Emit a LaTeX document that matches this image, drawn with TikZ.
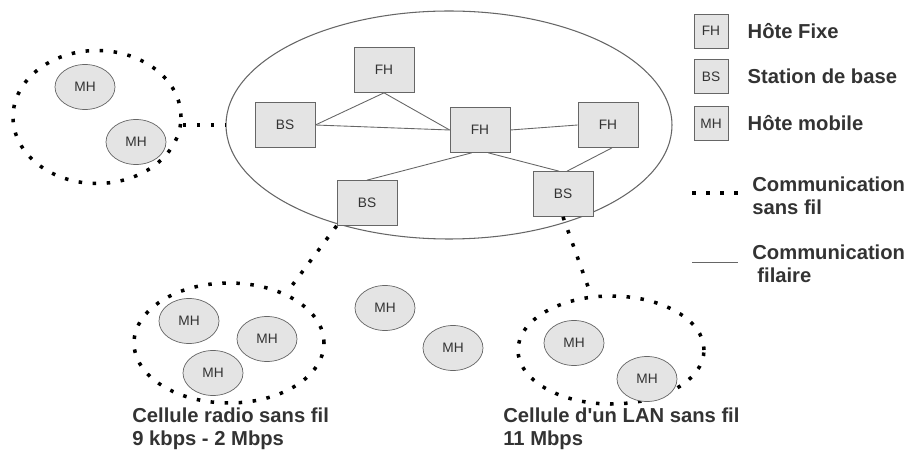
\documentclass[tikz,border=0pt]{standalone}
\usepackage{fontspec}
\setmainfont{Liberation Sans}
\usepackage{xcolor}
\usepackage{tikz}
\usetikzlibrary{shapes.geometric, positioning, calc}
\definecolor{boxgray}{HTML}{E4E4E4}
\definecolor{edgegray}{HTML}{666666}
\definecolor{inkgray}{HTML}{333333}
\tikzstyle{station} = [rectangle, minimum width=1.2cm, minimum height=0.9cm, draw=edgegray, fill=boxgray, text=inkgray, font=\fontsize{7.8}{9}\selectfont, inner sep=0pt]
\tikzstyle{mobile} = [ellipse, minimum width=1.2cm, minimum height=0.9cm, draw=edgegray, fill=boxgray, text=inkgray, font=\fontsize{7.8}{9}\selectfont, inner sep=0pt]
\tikzstyle{legendbox} = [rectangle, minimum width=0.68cm, minimum height=0.68cm, draw=edgegray, fill=boxgray, text=inkgray, font=\fontsize{7.8}{9}\selectfont, inner sep=0pt]
\tikzstyle{cell} = [ellipse, draw=black, line width=2pt, dash pattern=on 2pt off 6pt]
\tikzstyle{wireless} = [draw=black, line width=2pt, dash pattern=on 2pt off 6pt]
\tikzstyle{wired} = [draw=edgegray, line width=0.5pt]
\tikzstyle{caption} = [font=\bfseries\fontsize{11.5}{12.8}\selectfont, text=inkgray, align=left, inner sep=0pt]

\begin{document}
\begin{tikzpicture}
    \useasboundingbox (0,0) rectangle (18.2,9);

    % === WIRED NETWORK ===
    \node[ellipse, draw=edgegray, line width=0.6pt, minimum width=8.92cm, minimum height=4.56cm] (net) at (8.98,6.5) {};
    \node[station, xshift=-1.3cm, yshift=1.1cm] (fht) at (net.center) {FH};
    \node[station, xshift=-3.28cm] (bsl) at (net.center) {BS};
    \node[station, xshift=0.62cm, yshift=-0.1cm] (fhc) at (net.center) {FH};
    \node[station, xshift=3.18cm] (fhr) at (net.center) {FH};
    \node[station, xshift=-1.64cm, yshift=-1.56cm] (bsbl) at (net.center) {BS};
    \node[station, xshift=2.28cm, yshift=-1.38cm] (bsbr) at (net.center) {BS};

    % === WIRELESS CELLS ===
    \node[cell, minimum width=3.36cm, minimum height=2.66cm] (cellL) at (1.94,6.66) {};
    \node[mobile] (mh1) at (1.7,7.26) {MH};
    \node[mobile] (mh2) at (2.72,6.16) {MH};

    \node[cell, minimum width=3.8cm, minimum height=2.4cm] (cellA) at (4.58,2.14) {};
    \node[mobile] (mh3) at (3.78,2.58) {MH};
    \node[mobile] (mh4) at (5.34,2.22) {MH};
    \node[mobile] (mh5) at (4.26,1.54) {MH};

    \node[mobile] (mh6) at (7.7,2.84) {MH};
    \node[mobile] (mh7) at (9.06,2.04) {MH};

    \node[cell, minimum width=3.72cm, minimum height=2.16cm] (cellB) at (12.22,2.0) {};
    \node[mobile] (mh8) at (11.48,2.14) {MH};
    \node[mobile] (mh9) at (12.94,1.42) {MH};

    % === CAPTIONS ===
    \node[caption, anchor=west] (capA) at (2.64,0.42) {Cellule radio sans fil\\9 kbps - 2 Mbps};
    \node[caption, anchor=west] (capB) at (10.06,0.42) {Cellule d\textquotesingle un LAN sans fil\\11 Mbps};

    % === LEGEND ===
    \node[legendbox] (lgfh) at (14.22,8.38) {FH};
    \node[legendbox, below=0.22cm of lgfh] (lgbs) {BS};
    \node[legendbox, below=0.24cm of lgbs] (lgmh) {MH};
    \node[caption, right=0.38cm of lgfh] {Hôte Fixe};
    \node[caption, right=0.38cm of lgbs] {Station de base};
    \node[caption, right=0.38cm of lgmh] {Hôte mobile};

    \coordinate (lgw1) at (13.84,5.14);
    \coordinate (lgw2) at (14.76,5.14);
    \coordinate (lgf1) at (13.84,3.76);
    \coordinate (lgf2) at (14.76,3.76);
    \draw[wireless] (lgw1) -- (lgw2);
    \draw[wired] (lgf1) -- (lgf2);
    \node[caption, anchor=west] (lgwtext) at (15.04,5.08) {Communication\\sans fil};
    \node[caption, anchor=west] (lgftext) at (15.04,3.72) {Communication\\\hspace{0.25em}filaire};

    % ===== CONNECTORS =====
    % wired links
    \draw[wired] (bsl.east) -- (fhc.west);
    \draw[wired] (bsl.east) -- (fht.south) -- (fhc.west);
    \draw[wired] (fhc.east) -- (fhr.west);
    \draw[wired] (fhc.250) -- (bsbl.north);
    \draw[wired] (fhc.290) -- (bsbr.100);
    \draw[wired] (fhr.280) -- (bsbr.80);

    % wireless links
    \draw[wireless] (net.west -| cellL.east) -- (net.west);
    \draw[wireless] (bsbl.south west) -- (cellA.41);
    \draw[wireless] (bsbr.south) -- (cellB.110);
\end{tikzpicture}
\end{document}
